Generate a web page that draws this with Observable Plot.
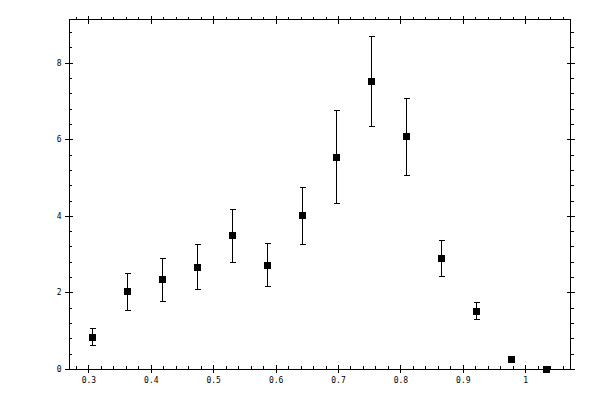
<!DOCTYPE html>
<html><head><meta charset="utf-8">
<script src="https://cdn.jsdelivr.net/npm/d3@7"></script>
<script src="https://cdn.jsdelivr.net/npm/@observablehq/plot@0.6"></script>
<style>body{margin:0;background:#fff} svg{shape-rendering:crispEdges}</style>
</head><body><div id="chart"></div>
<script>
const xValues = [0.3058, 0.3619, 0.4180, 0.4741, 0.5302, 0.5864, 0.6425, 0.6970, 0.7531, 0.8092, 0.8653, 0.9214, 0.9776, 1.0337];
const yValues = [0.836, 2.037, 2.350, 2.664, 3.500, 2.716, 4.022, 5.537, 7.522, 6.085, 2.899, 1.515, 0.261, 0];
const yLow    = [0.627, 1.541, 1.776, 2.089, 2.802, 2.168, 3.272, 4.335, 6.346, 5.067, 2.429, 1.306, 0.261, 0];
const yHigh   = [1.079, 2.507, 2.899, 3.272, 4.179, 3.298, 4.761, 6.764, 8.697, 7.067, 3.364, 1.750, 0.261, 0];

const xMajorTicks = [0.3, 0.4, 0.5, 0.6, 0.7, 0.8, 0.9, 1.0];
const xTickLabels = ["0.3", "0.4", "0.5", "0.6", "0.7", "0.8", "0.9", "1"];
const yMajorTicks = [0, 2, 4, 6, 8];
const yTickLabels = ["0", "2", "4", "6", "8"];
const xMinorTicks = d3.range(14, 54).map(i => i / 50);
const yMinorTicks = d3.range(0, 23).map(i => i * 0.4);

const data = xValues.map((x, i) => ({x, y: yValues[i], lo: yLow[i], hi: yHigh[i]}));

const capSymbol = {draw(ctx, size) { const r = Math.sqrt(size / Math.PI); ctx.moveTo(-r, 0); ctx.lineTo(r, 0); }};
const squareSymbol = {draw(ctx, size) { const r = Math.sqrt(size / Math.PI); ctx.rect(-r, -r, 2 * r, 2 * r); }};

const blank = () => "";
const common = {label: null, stroke: "black", strokeWidth: 1};

const chart = Plot.plot({
  width: 600,
  height: 400,
  marginLeft: 69,
  marginRight: 30,
  marginTop: 19,
  marginBottom: 31,
  style: {fontFamily: "DejaVu Sans Mono", fontSize: "8px", color: "black", background: "white"},
  x: {domain: [0.2689, 1.0718]},
  y: {domain: [0, 9.141]},
  marks: [
    Plot.frame({stroke: "black", strokeWidth: 1}),
    // bottom axis
    Plot.axisX(xMajorTicks, {...common, anchor: "bottom", tickSize: 8, dy: -4, tickFormat: blank}),
    Plot.axisX(xMinorTicks, {...common, anchor: "bottom", tickSize: 3, dy: -3, tickFormat: blank}),
    Plot.axisX(xMajorTicks, {label: null, anchor: "bottom", tickSize: 0, tickPadding: 8, fill: "black",
      tickFormat: d => xTickLabels[xMajorTicks.indexOf(d)]}),
    // top axis
    Plot.axisX(xMajorTicks, {...common, anchor: "top", tickSize: 8, dy: 4, tickFormat: blank}),
    Plot.axisX(xMinorTicks, {...common, anchor: "top", tickSize: 3, dy: 0, tickFormat: blank}),
    // left axis
    Plot.axisY(yMajorTicks, {...common, anchor: "left", tickSize: 8, dx: 4, tickFormat: blank}),
    Plot.axisY(yMinorTicks, {...common, anchor: "left", tickSize: 3, dx: 3, tickFormat: blank}),
    Plot.axisY(yMajorTicks, {label: null, anchor: "left", tickSize: 0, tickPadding: 8, fill: "black",
      tickFormat: d => yTickLabels[yMajorTicks.indexOf(d)]}),
    // right axis
    Plot.axisY(yMajorTicks, {...common, anchor: "right", tickSize: 8, dx: -4, tickFormat: blank}),
    Plot.axisY(yMinorTicks, {...common, anchor: "right", tickSize: 3, dx: 0, tickFormat: blank}),
    // error bars
    Plot.ruleX(data, {x: "x", y1: "lo", y2: "hi", stroke: "black", strokeWidth: 1}),
    Plot.dot(data, {x: "x", y: "lo", symbol: capSymbol, r: 3, stroke: "black", strokeWidth: 1, fill: "none"}),
    Plot.dot(data, {x: "x", y: "hi", symbol: capSymbol, r: 3, stroke: "black", strokeWidth: 1, fill: "none"}),
    // markers
    Plot.dot(data, {x: "x", y: "y", symbol: squareSymbol, r: 3.5, fill: "black", stroke: "none"})
  ]
});
document.getElementById("chart").appendChild(chart);
</script>
</body></html>
